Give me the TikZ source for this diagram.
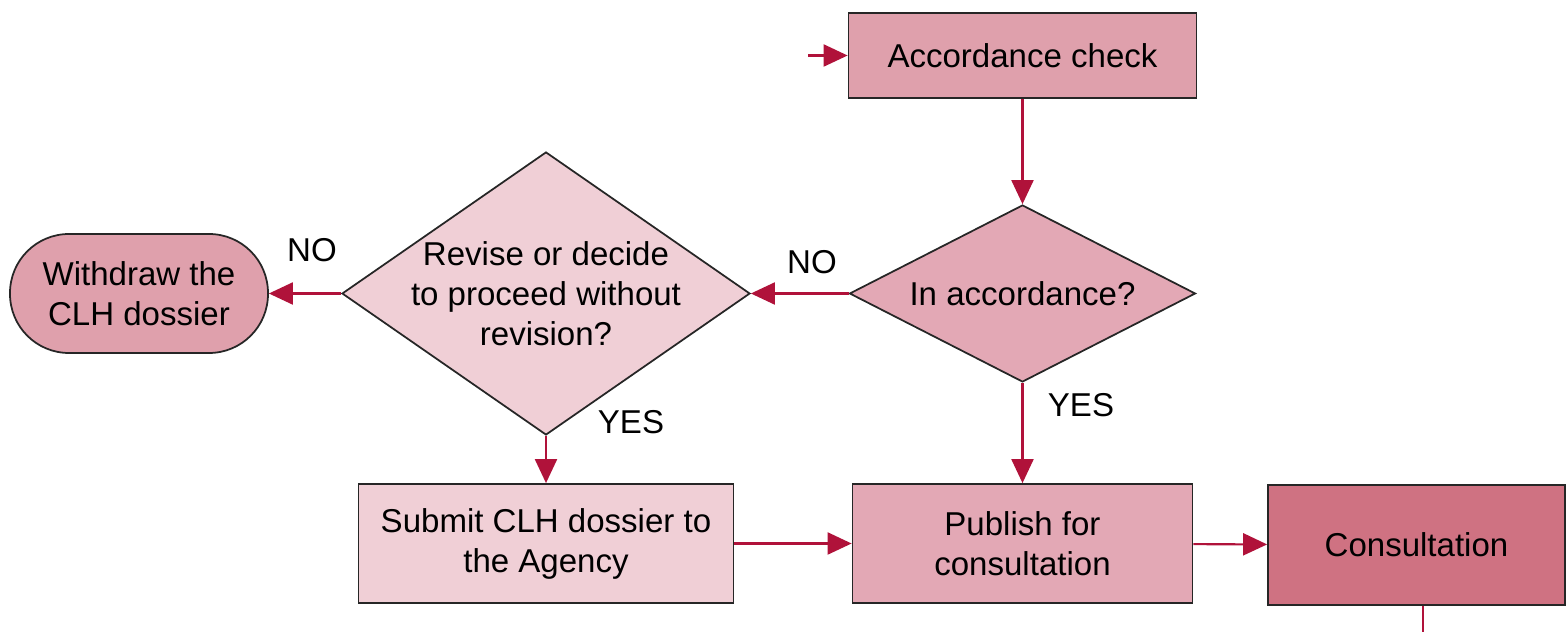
\documentclass[tikz,border=0pt]{standalone}
\usepackage{fontspec}
\setmainfont{Liberation Sans}
\usepackage{tikz}
\usetikzlibrary{graphs,shapes.geometric,arrows.meta}
\definecolor{pinkA}{HTML}{DFA0AC}
\definecolor{pinkB}{HTML}{E3A8B5}
\definecolor{pinkC}{HTML}{F0CFD6}
\definecolor{pinkD}{HTML}{CF7282}
\definecolor{flowred}{HTML}{B0123A}
\tikzset{
    flowbox/.style={
        inner sep=0,
        draw=black!85,
        line width=0.5pt,
        rectangle,
        align=center,
        font=\fontsize{9.4}{11.4}\selectfont,
    },
    flowask/.style={
        flowbox,
        diamond,
    },
    flowline/.style={
        draw=flowred,
        line width=0.6pt,
    },
    flowlabel/.style={
        inner sep=0,
        font=\fontsize{9.4}{11.4}\selectfont,
    },
}
\begin{document}
\begin{tikzpicture}[>={Triangle[length=2.4mm,width=2.2mm]}]
            \useasboundingbox (0, 0) rectangle (15.66, 6.32) ;

            \node[flowbox, fill=pinkA, minimum width=3.48cm, minimum height=0.85cm] at (10.225, 5.765) (check) {Accordance check} ;
            \node[flowask, fill=pinkB, shape aspect=1.95, minimum width=3.46cm, minimum height=1.77cm] at (10.225, 3.385) (accord) {In accordance?} ;
            \node[flowask, fill=pinkC, shape aspect=1.44, inner xsep=-0.2cm, minimum width=4.08cm, minimum height=2.83cm] at (5.46, 3.385) (revise) {Revise or decide\\to proceed without\\revision?} ;
            \node[flowbox, fill=pinkA, rounded corners=0.59cm, minimum width=2.58cm, minimum height=1.19cm] at (1.39, 3.385) (withdraw) {Withdraw the\\CLH dossier} ;
            \node[flowbox, fill=pinkC, minimum width=3.75cm, minimum height=1.19cm] at (5.46, 0.885) (submit) {Submit CLH dossier to\\the Agency} ;
            \node[flowbox, fill=pinkB, minimum width=3.40cm, minimum height=1.19cm] at (10.225, 0.885) (publish) {Publish for\\consultation} ;
            \node[flowbox, fill=pinkD, minimum width=2.97cm, minimum height=1.20cm] at (14.165, 0.87) (consult) {Consultation} ;

            \coordinate (entry) at (8.08, 5.765) ;
            \coordinate (exit) at (14.23, 0) ;

            \node[flowlabel] at (3.12, 3.82) (no1) {NO} ;
            \node[flowlabel] at (8.12, 3.70) (no2) {NO} ;
            \node[flowlabel] at (6.31, 2.10) (yes1) {YES} ;
            \node[flowlabel] at (10.81, 2.27) (yes2) {YES} ;

            \graph[use existing nodes, edges={flowline}]{
                entry -> check -> accord -> publish -> consult ;
                accord -> revise -> withdraw ;
                revise -> submit -> publish ;
            } ;
            \draw[flowline] (exit |- consult.south) -- (exit) ;
        \end{tikzpicture}
\end{document}
